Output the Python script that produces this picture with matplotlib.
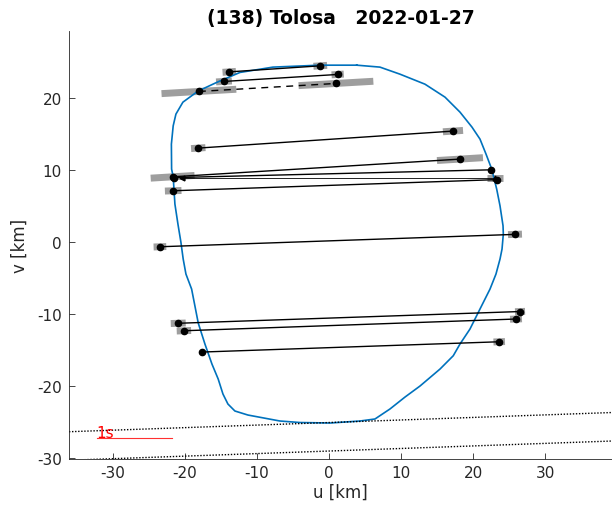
import numpy as np
import matplotlib
matplotlib.use("Agg")
import matplotlib.pyplot as plt

plt.rcParams['font.family'] = ['DejaVu Sans']
plt.rcParams['axes.unicode_minus'] = False

title = "(138) Tolosa   2022-01-27"

# Limb contour (km)
limb_u = [3.85, -1.25, -7.78, -12.36, -15.6, -18.19, -20.28, -21.25, -21.63, -21.88, -21.85,
          -21.63, -21.39, -20.97, -20.56, -20.24, -19.86, -19.07, -18.15, -17.22, -16.25,
          -15.38, -14.72, -14.03, -13.06, -11.25, -6.81, -4.03, 0.14, 4.31, 6.39, 8.47,
          10.56, 12.64, 15.42, 17.26, 18.19, 19.58, 20.74, 22.36, 23.19, 23.75, 24.03,
          24.21, 24.17, 23.75, 23.29, 22.6, 21.81, 20.97, 19.86, 18.19, 16.11, 13.33,
          9.86, 7.08, 3.85]
limb_v = [24.58, 24.58, 24.31, 23.57, 22.18, 20.97, 19.44, 17.78, 16.15, 13.61, 10.14,
          9.07, 5.28, 2.5, 0.0, -2.36, -4.44, -6.53, -11.25, -14.17, -16.94,
          -19.03, -21.11, -22.5, -23.47, -24.03, -24.86, -25.07, -25.14, -24.86, -24.58, -23.19,
          -21.53, -20.0, -17.64, -15.79, -14.17, -12.08, -9.76, -6.53, -4.44, -2.36, -0.97,
          1.11, 2.26, 5.04, 7.36, 10.14, 12.22, 14.31, 15.97, 18.06, 20.14, 21.94,
          23.33, 24.31, 24.58]

# Chords: start (u,v), end (u,v), error half-length at start/end (km), style
chord_u1 = [-13.85, -14.58, -18.06, -18.15, -21.71, -21.53, -20.46, -21.63, -23.47, -20.93, -20.14, -17.68]
chord_v1 = [23.65, 22.32, 20.93, 13.06, 9.07, 8.96, 8.85, 7.13, -0.65, -11.28, -12.32, -15.28]
chord_u2 = [-1.21, 1.21, 0.97, 17.22, 18.19, 22.5, 23.06, 23.33, 25.83, 26.53, 25.97, 23.64]
chord_v2 = [24.49, 23.29, 22.04, 15.42, 11.53, 10.04, 8.85, 8.68, 1.07, -9.65, -10.69, -13.85]
err1 = [0.93, 1.1, 5.2, 1.0, 3.05, 0.0, 0.0, 1.15, 0.88, 1.04, 1.0, 0.0]
err2 = [0.95, 0.85, 5.2, 1.4, 3.2, 0.0, 1.1, 0.0, 0.97, 0.7, 0.83, 0.8]
chord_style = ['solid', 'solid', 'dashed', 'solid', 'solid', 'solid', 'thin', 'solid',
               'solid', 'solid', 'solid', 'solid']

# Shadow limits (dotted)
lim_u = [-36.1, 39.3]
lim_upper_v = [-26.35, -23.68]
lim_lower_v = [-30.31, -27.64]

# 1 s scale bar
scale_u = [-32.24, -21.82]
scale_v = [-27.26, -27.26]
scale_label = "1s"

fig = plt.figure(figsize=(6.12, 5.10), dpi=100)
ax = fig.add_axes([0.1127, 0.099, 0.8873, 0.838])

# error bars (gray)
for i in range(len(chord_u1)):
    du = chord_u2[i] - chord_u1[i]
    dv = chord_v2[i] - chord_v1[i]
    n = np.hypot(du, dv)
    eu, ev = du / n, dv / n
    for (cu, cv, e) in [(chord_u1[i], chord_v1[i], err1[i]), (chord_u2[i], chord_v2[i], err2[i])]:
        if e > 0:
            ax.plot([cu - e * eu, cu + e * eu], [cv - e * ev, cv + e * ev], color='0.62',
                    lw=5, solid_capstyle='butt', zorder=1)

ax.plot(limb_u, limb_v, color='#0072BD', lw=1.2, zorder=2)

for i in range(len(chord_u1)):
    st = chord_style[i]
    if st == 'dashed':
        ax.plot([chord_u1[i], chord_u2[i]], [chord_v1[i], chord_v2[i]], color='black',
                lw=1.0, ls=(0, (5, 4)), zorder=3)
        ax.plot([chord_u1[i], chord_u2[i]], [chord_v1[i], chord_v2[i]], 'o', color='black',
                ms=4.5, zorder=4)
    elif st == 'thin':
        ax.plot([chord_u1[i], chord_u2[i]], [chord_v1[i], chord_v2[i]], color='black',
                lw=0.6, zorder=3)
        ax.plot([chord_u1[i]], [chord_v1[i]], marker='<', color='black', ms=3.5, zorder=4, ls='none')
        ax.plot([chord_u2[i]], [chord_v2[i]], marker='^', color='black', ms=3.5, zorder=4, ls='none')
    else:
        ax.plot([chord_u1[i], chord_u2[i]], [chord_v1[i], chord_v2[i]], color='black',
                lw=1.0, zorder=3)
        ax.plot([chord_u1[i], chord_u2[i]], [chord_v1[i], chord_v2[i]], 'o', color='black',
                ms=4.5, zorder=4)

ax.plot(lim_u, lim_upper_v, color='black', lw=1.0, ls=(0, (1, 1.2)), zorder=2)
ax.plot(lim_u, lim_lower_v, color='black', lw=1.0, ls=(0, (1, 1.2)), zorder=2)

ax.plot(scale_u, scale_v, color='#ff3030', lw=0.8, zorder=3)
ax.text(scale_u[0], -27.05, scale_label, color='red', fontsize=11, ha='left', va='baseline')

ax.set_xlim(-36.1, 39.3)
ax.set_ylim(-30.07, 29.31)
ax.set_xticks([-30, -20, -10, 0, 10, 20, 30])
ax.set_yticks([-30, -20, -10, 0, 10, 20])
ax.spines['top'].set_visible(False)
ax.spines['right'].set_visible(False)
for s in ['left', 'bottom']:
    ax.spines[s].set_color('#262626')
    ax.spines[s].set_linewidth(0.6)
ax.tick_params(direction='in', length=4, width=0.6, colors='#262626', labelsize=11, pad=5)
ax.set_xlabel('u [km]', fontsize=12, color='#262626', labelpad=2)
ax.set_ylabel('v [km]', fontsize=12, color='#262626', labelpad=6)
ax.set_title(title, fontsize=13.5, fontweight='bold', pad=6)

fig.savefig('out.png', dpi=100)
